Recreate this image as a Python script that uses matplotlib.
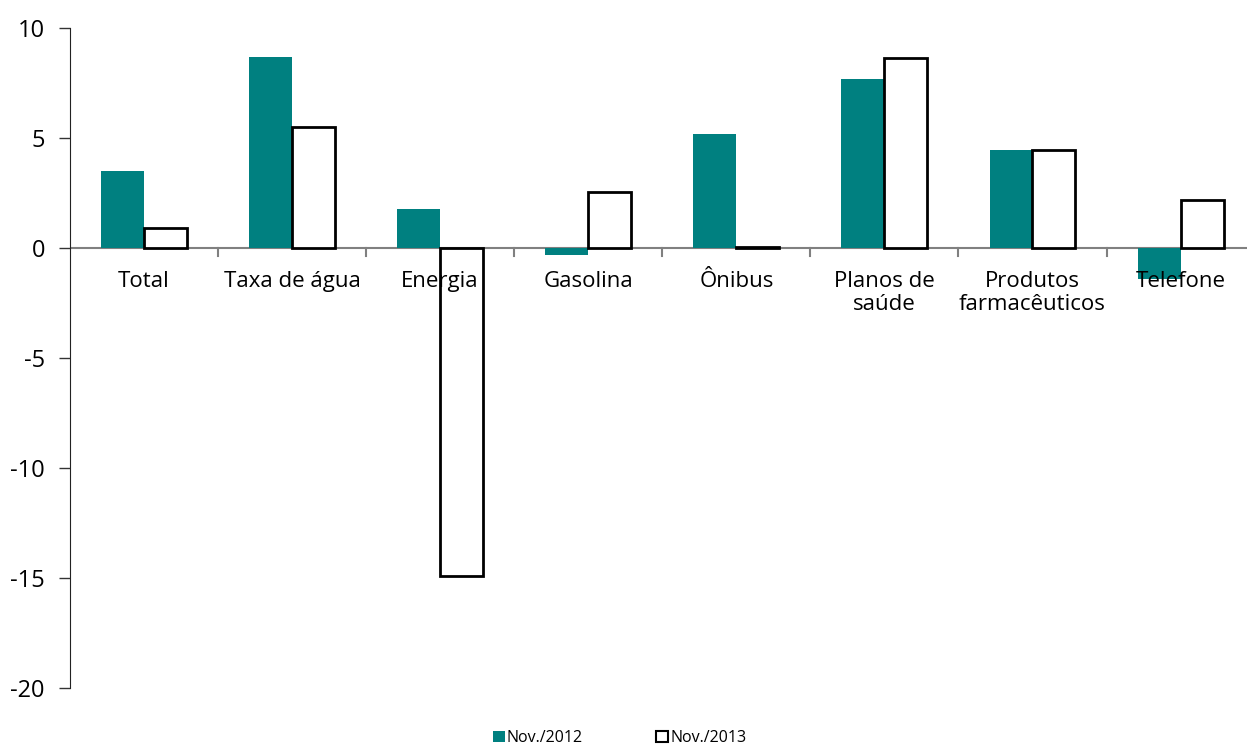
import numpy as np
import matplotlib.pyplot as plt
from matplotlib.patches import Patch

plt.rcParams['font.family'] = ['Open Sans', 'DejaVu Sans']

categories = ["Total", "Taxa de água", "Energia", "Gasolina", "Ônibus",
              "Planos de\nsaúde", "Produtos\nfarmacêuticos", "Telefone"]
nov_2012 = [3.5, 8.7, 1.75, -0.3, 5.2, 7.7, 4.45, -1.4]
nov_2013 = [0.9, 5.5, -14.9, 2.55, 0.05, 8.65, 4.45, 2.2]
teal = "#008080"

fig = plt.figure(figsize=(12.47, 7.44), dpi=100)
ax = fig.add_axes([0.0561, 0.0753, 0.95, 0.8871])

x = np.arange(len(categories))
w = 0.29
ax.bar(x - w / 2, nov_2012, width=w, color=teal, edgecolor="none", zorder=2)
ax.bar(x + w / 2, nov_2013, width=w, color="white", edgecolor="black",
       linewidth=2, zorder=3)

ax.set_xlim(-0.5, 7.5)
ax.set_ylim(-20, 10)
ax.set_yticks([-20, -15, -10, -5, 0, 5, 10])
ax.set_yticklabels(["-20", "-15", "-10", "-5", "0", "5", "10"], fontsize=17)
ax.tick_params(axis="y", length=8, width=1, pad=10, color="#333333")

for s in ["top", "right", "bottom"]:
    ax.spines[s].set_visible(False)
ax.spines["left"].set_color("#222222")
ax.set_xticks([])

# zero line with category separators
ax.axhline(0, color="#808080", linewidth=1.5, zorder=1)
for b in np.arange(0.5, 7.5, 1):
    ax.plot([b, b], [0, -0.35], color="#808080", linewidth=1.5, zorder=1, clip_on=False)

for xi, lab in zip(x, categories):
    ax.text(xi, -1.05, lab, ha="center", va="top", fontsize=16,
            linespacing=1.1, zorder=4)

handles = [Patch(facecolor=teal, edgecolor="none", label="Nov./2012"),
           Patch(facecolor="white", edgecolor="black", linewidth=1.5, label="Nov./2013")]
fig.legend(handles=handles, loc="lower center", bbox_to_anchor=(0.497, -0.022),
           ncol=2, frameon=False, fontsize=11.5, handlelength=0.7, handleheight=0.7,
           handletextpad=0.15, columnspacing=4.6)

fig.savefig("out.png", dpi=100)
